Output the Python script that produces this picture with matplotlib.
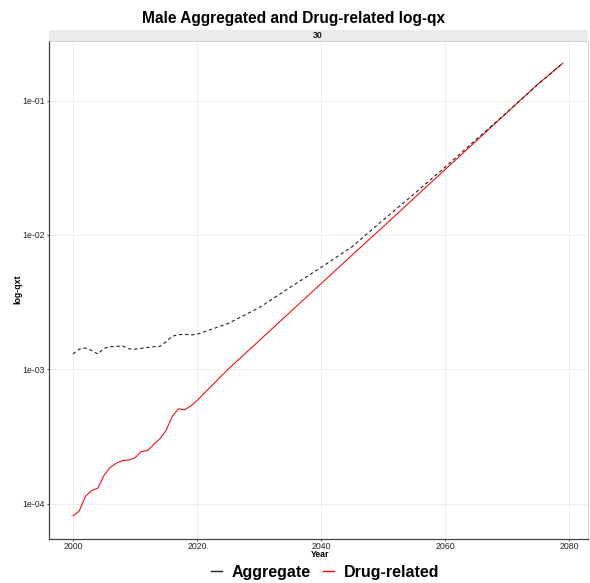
import matplotlib
matplotlib.use("Agg")
import matplotlib.pyplot as plt
import numpy as np
from matplotlib.lines import Line2D
from matplotlib.patches import Rectangle

plt.rcParams["font.family"] = ["Liberation Sans", "DejaVu Sans"]

# Observed years (annual) followed by projection years
years = [2000, 2001, 2002, 2003, 2004, 2005, 2006, 2007, 2008, 2009,
         2010, 2011, 2012, 2013, 2014, 2015, 2016, 2017, 2018, 2019,
         2020, 2025, 2030, 2035, 2040, 2045, 2050, 2055, 2060, 2065,
         2070, 2075, 2079]

aggregate = [1.30e-3, 1.41e-3, 1.44e-3, 1.38e-3, 1.30e-3, 1.43e-3, 1.47e-3,
             1.48e-3, 1.49e-3, 1.42e-3, 1.41e-3, 1.43e-3, 1.45e-3, 1.47e-3,
             1.48e-3, 1.60e-3, 1.76e-3, 1.81e-3, 1.82e-3, 1.80e-3, 1.82e-3,
             2.19e-3, 2.87e-3, 4.07e-3, 5.73e-3, 8.17e-3, 1.29e-2, 2.02e-2,
             3.20e-2, 5.13e-2, 8.20e-2, 1.33e-1, 1.90e-1]

drug_related = [8.1e-5, 8.8e-5, 1.13e-4, 1.25e-4, 1.30e-4, 1.62e-4, 1.86e-4,
                2.00e-4, 2.09e-4, 2.11e-4, 2.19e-4, 2.44e-4, 2.48e-4, 2.75e-4,
                3.03e-4, 3.50e-4, 4.45e-4, 5.07e-4, 4.99e-4, 5.33e-4, 5.85e-4,
                1.00e-3, 1.63e-3, 2.66e-3, 4.34e-3, 7.08e-3, 1.15e-2, 1.88e-2,
                3.07e-2, 5.00e-2, 8.17e-2, 1.33e-1, 1.90e-1]

series_names = ["Aggregate", "Drug-related"]
facet_label = "30"
x_ticks = [2000, 2020, 2040, 2060, 2080]
y_ticks = [1e-4, 1e-3, 1e-2, 1e-1]
y_tick_labels = ["1e-04", "1e-03", "1e-02", "1e-01"]

W, H = 590, 583
fig = plt.figure(figsize=(W / 100, H / 100), dpi=100)

# panel placement in pixel units
px_l, px_r, px_t, px_b = 48.5, 587.5, 40.5, 538.5
pw, ph = px_r - px_l, px_b - px_t
ax = fig.add_axes([px_l / W, 1 - px_b / H, pw / W, ph / H])

ax.plot(years, drug_related, color="#FF0000", lw=0.75, zorder=3)
ax.plot(years, aggregate, color="#222222", lw=0.8, ls=(0, (3, 2.5)), zorder=4)

ax.set_yscale("log")
ax.set_xlim(2000 - 0.05 * 79, 2079 + 0.05 * 79)
lo, hi = np.log10(min(drug_related)), np.log10(max(aggregate))
pad = 0.05 * (hi - lo)
ax.set_ylim(10 ** (lo - pad), 10 ** (hi + pad))

ax.set_xticks(x_ticks)
ax.set_xticklabels([str(t) for t in x_ticks])
ax.set_yticks(y_ticks)
ax.set_yticklabels(y_tick_labels)
ax.yaxis.set_minor_locator(matplotlib.ticker.NullLocator())
ax.xaxis.set_minor_locator(matplotlib.ticker.NullLocator())

ax.grid(True, which="major", color="#EBEBEB", lw=0.6, zorder=0)
ax.set_axisbelow(True)
ax.tick_params(axis="both", which="major", length=1.6, width=0.6,
               color="#333333", labelsize=6.3, labelcolor="#262626", pad=0.8)

for side in ["top", "right"]:
    ax.spines[side].set_color("#CCCCCC")
    ax.spines[side].set_linewidth(0.6)
for side in ["left", "bottom"]:
    ax.spines[side].set_color("#444444")
    ax.spines[side].set_linewidth(0.9)

ax.set_xlabel("Year", fontsize=6.3, fontweight="bold")
ax.xaxis.set_label_coords((320 - px_l) / pw, -(550 - px_b) / ph)
ax.set_ylabel("log-qxt", fontsize=6.3, fontweight="bold")
ax.yaxis.set_label_coords(-(px_l - 22) / pw, 0.5)

# facet strip
strip = Rectangle((px_l / W, 1 - px_t / H), pw / W, 11 / H,
                  transform=fig.transFigure, facecolor="#EBEBEB",
                  edgecolor="none")
fig.patches.append(strip)
fig.text((px_l + px_r) / 2 / W, 1 - (px_t - 5.5) / H, facet_label,
         ha="center", va="center", fontsize=6.3, fontweight="bold",
         color="#1a1a1a")

fig.text(294 / W, 1 - 18 / H, "Male Aggregated and Drug-related log-qx",
         ha="center", va="center", fontsize=11.2, fontweight="bold")

handles = [Line2D([], [], color="#222222", lw=1.0),
           Line2D([], [], color="#FF0000", lw=1.0)]
fig.legend(handles, series_names, loc="center",
           bbox_to_anchor=(325 / W, 1 - 572 / H), ncol=2, frameon=False,
           prop={"size": 11.5, "weight": "bold"}, handlelength=0.7,
           handletextpad=0.6, columnspacing=0.8)

fig.savefig("out.png", dpi=100)
